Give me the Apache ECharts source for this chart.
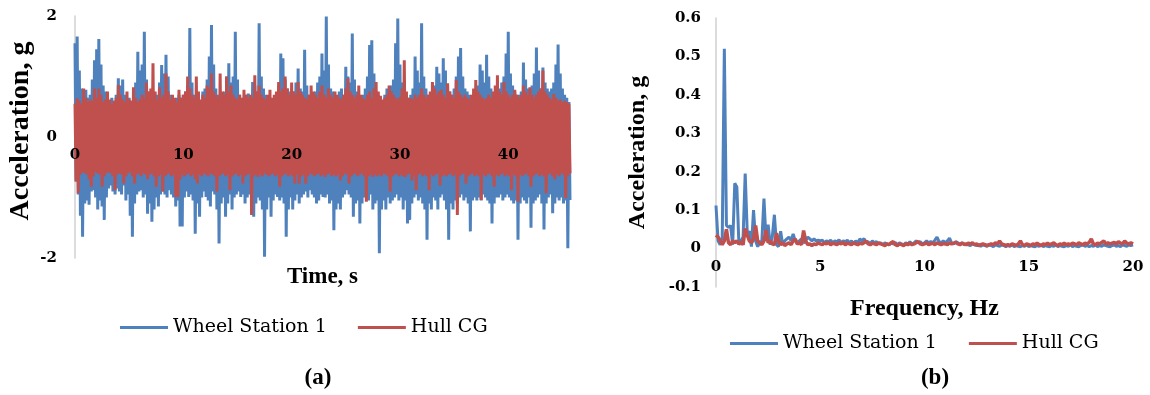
<!DOCTYPE html>
<html>
<head>
<meta charset="utf-8">
<script src="https://cdn.jsdelivr.net/npm/echarts@6/dist/echarts.min.js"></script>
<style>
html,body{margin:0;padding:0;background:#fff;}
#chart{width:1150px;height:395px;}
</style>
</head>
<body>
<div id="chart"></div>
<script>
// ---- Panel (a): time history, samples every 0.1 s ----
const seriesNames = ['Wheel Station 1', 'Hull CG'];
const timeStep = 0.1;
const wheelTime = [
 1.55,-0.72, 1.66,-0.95, 1.10,-1.30, 0.80,-1.65, 0.72,-1.10,
 0.78,-1.05, 0.65,-1.12, 0.70,-0.90, 0.95,-0.88, 1.27,-1.00,
 1.45,-1.20, 1.62,-1.05, 1.20,-1.15, 0.85,-1.37, 0.75,-1.00,
 0.62,-0.85, 0.55,-0.80, 0.65,-0.90, 0.60,-0.95, 0.70,-0.85,
 0.97,-0.90, 0.85,-0.95, 0.95,-0.80, 0.70,-1.05, 0.60,-0.95,
 0.65,-1.30, 0.60,-1.65, 0.70,-1.10, 0.90,-0.95, 1.41,-0.90,
 1.10,-0.88, 1.20,-1.00, 1.74,-0.95, 0.95,-1.27, 0.75,-1.10,
 0.65,-1.40, 0.60,-1.20, 0.55,-1.00, 0.70,-1.15, 0.90,-0.95,
 1.19,-0.90, 1.05,-0.95, 1.36,-1.00, 1.00,-0.88, 0.70,-0.95,
 0.60,-1.00, 0.55,-1.15, 0.65,-1.05, 0.70,-1.48, 0.65,-1.48,
 0.70,-1.00, 0.75,-0.90, 0.85,-0.99, 1.80,-0.95, 0.90,-1.05,
 0.70,-1.60, 0.62,-1.10, 0.70,-1.32, 0.60,-1.00, 0.75,-0.90,
 0.80,-0.99, 0.95,-1.05, 1.33,-1.15, 1.85,-0.90, 1.20,-0.95,
 0.80,-1.20, 0.70,-1.76, 0.65,-1.10, 0.70,-1.00, 0.75,-1.32,
 1.00,-1.10, 1.22,-0.95, 0.90,-1.20, 1.00,-1.00, 1.74,-0.95,
 0.95,-0.90, 0.70,-0.99, 0.60,-0.95, 0.65,-1.10, 0.70,-1.00,
 0.72,-0.95, 0.65,-1.00, 0.91,-1.32, 0.85,-1.10, 0.75,-1.00,
 1.88,-1.05, 1.00,-1.20, 0.80,-1.98, 0.70,-1.20, 0.65,-1.00,
 0.60,-1.32, 0.55,-1.05, 0.65,-0.95, 0.70,-0.99, 0.85,-1.05,
 1.38,-1.00, 1.30,-1.10, 0.95,-1.65, 0.80,-1.20, 0.75,-1.00,
 0.70,-1.20, 0.75,-1.05, 0.90,-0.95, 1.13,-1.10, 0.80,-1.00,
 0.75,-0.95, 1.44,-0.90, 0.85,-1.00, 0.70,-0.88, 0.65,-0.95,
 0.70,-1.00, 0.75,-1.10, 0.90,-1.05, 1.00,-0.95, 1.38,-0.99,
 1.10,-1.00, 1.99,-0.95, 1.20,-1.10, 0.80,-1.05, 0.75,-1.54,
 0.70,-1.20, 0.65,-1.10, 0.75,-1.20, 0.80,-1.00, 0.70,-0.95,
 1.16,-0.88, 1.00,-0.95, 0.90,-1.00, 1.71,-1.32, 0.95,-1.10,
 0.75,-1.05, 0.70,-1.43, 0.65,-1.10, 0.70,-1.00, 0.80,-0.95,
 1.00,-1.05, 1.52,-0.95, 1.60,-1.20, 1.05,-1.10, 0.75,-1.05,
 0.70,-1.92, 0.65,-1.20, 0.60,-1.05, 0.70,-1.20, 0.80,-1.00,
 0.75,-1.10, 0.85,-1.05, 0.95,-1.00, 1.55,-0.95, 1.96,-1.05,
 1.20,-1.00, 0.90,-1.20, 0.75,-1.05, 0.70,-1.43, 0.65,-1.37,
 0.70,-1.10, 0.80,-1.00, 1.33,-0.95, 1.10,-1.05, 0.90,-1.00,
 1.88,-1.10, 1.00,-1.20, 0.80,-1.70, 0.70,-1.10, 0.65,-1.20,
 0.75,-1.00, 0.85,-1.05, 1.16,-1.20, 1.05,-1.00, 0.90,-0.95,
 1.30,-1.05, 1.10,-1.20, 0.85,-1.70, 0.75,-1.10, 0.70,-1.20,
 0.80,-1.05, 1.00,-1.10, 1.33,-1.00, 1.47,-0.95, 1.00,-1.05,
 0.80,-1.00, 0.75,-1.10, 0.70,-1.56, 0.65,-1.05, 0.70,-1.00,
 0.75,-1.05, 0.85,-1.00, 1.20,-1.05, 1.10,-0.95, 0.90,-1.00,
 1.36,-1.05, 1.00,-1.10, 0.80,-1.43, 0.70,-1.10, 0.65,-1.00,
 0.70,-1.00, 0.80,-0.95, 0.90,-1.05, 1.00,-1.00, 1.38,-0.95,
 1.74,-1.00, 1.05,-1.05, 0.85,-1.10, 0.75,-1.05, 0.70,-1.70,
 0.70,-1.10, 0.75,-1.00, 1.23,-1.05, 0.95,-1.10, 0.80,-1.00,
 0.75,-1.50, 0.85,-1.10, 1.05,-1.05, 1.48,-1.00, 1.10,-0.95,
 0.80,-1.10, 1.15,-1.53, 0.90,-1.10, 0.80,-1.00, 0.75,-0.95,
 0.80,-1.26, 0.90,-1.10, 1.20,-1.00, 1.53,-1.05, 1.05,-1.00,
 0.80,-1.10, 0.70,-1.05, 0.65,-1.84, 0.58,-1.04
];
const hullTime = [
 0.55,-0.74, 0.64,-0.93, 0.60,-0.62, 0.55,-0.58, 0.80,-0.60,
 0.65,-0.62, 0.58,-0.70, 0.62,-0.82, 0.60,-0.65, 0.80,-0.58,
 0.65,-0.60, 0.80,-0.62, 0.70,-0.82, 0.58,-0.65, 0.62,-0.60,
 0.75,-0.58, 0.62,-0.60, 0.55,-0.65, 0.60,-0.88, 0.65,-0.62,
 0.86,-0.60, 0.70,-0.62, 0.62,-0.77, 0.58,-0.65, 0.75,-0.60,
 0.62,-0.58, 0.60,-0.65, 0.82,-0.77, 0.65,-0.62, 0.58,-0.60,
 0.62,-0.65, 0.70,-0.60, 0.65,-0.62, 0.90,-0.70, 0.75,-0.62,
 0.80,-0.60, 1.22,-0.65, 0.75,-0.82, 0.62,-0.65, 0.82,-0.62,
 0.65,-0.90, 0.70,-0.65, 1.05,-0.62, 0.75,-0.60, 0.62,-0.65,
 0.70,-0.62, 0.65,-0.99, 0.58,-0.99, 0.78,-0.70, 0.65,-0.62,
 0.70,-0.65, 0.75,-0.62, 1.00,-0.60, 0.80,-0.65, 0.70,-0.62,
 0.65,-0.70, 1.00,-0.77, 0.75,-0.62, 0.62,-0.65, 0.70,-0.60,
 0.65,-0.62, 0.85,-0.65, 0.80,-0.60, 1.05,-0.62, 0.75,-0.65,
 0.70,-0.90, 0.65,-0.65, 1.05,-0.62, 0.75,-0.60, 0.70,-0.65,
 1.00,-0.62, 0.75,-0.88, 0.85,-0.65, 0.70,-0.62, 0.65,-0.60,
 0.62,-0.65, 0.70,-0.62, 0.65,-0.77, 0.78,-0.65, 0.70,-0.62,
 0.65,-0.60, 0.70,-1.29, 0.65,-0.65, 1.02,-0.62, 0.75,-0.66,
 0.85,-0.62, 0.70,-0.65, 0.65,-0.60, 0.62,-0.62, 0.70,-0.65,
 0.78,-0.62, 0.65,-0.60, 0.70,-0.65, 0.75,-0.62, 0.91,-0.82,
 0.75,-0.65, 0.80,-0.62, 1.00,-0.60, 0.80,-0.65, 0.70,-0.62,
 0.90,-0.65, 0.75,-0.77, 0.70,-0.62, 0.91,-0.77, 0.75,-0.65,
 0.70,-0.62, 0.65,-0.77, 0.62,-0.65, 0.70,-0.60, 0.85,-0.62,
 0.75,-0.65, 0.70,-0.62, 0.65,-0.60, 0.75,-0.65, 0.85,-0.62,
 0.70,-0.66, 0.65,-0.62, 0.80,-0.60, 0.70,-0.65, 0.65,-0.62,
 0.75,-0.65, 0.70,-0.62, 0.65,-0.72, 0.62,-0.65, 0.70,-0.60,
 0.80,-0.62, 0.97,-0.77, 0.75,-0.65, 0.70,-0.62, 0.65,-0.60,
 0.70,-0.65, 0.85,-0.62, 0.70,-0.60, 0.64,-0.65, 0.62,-1.07,
 0.70,-0.65, 0.75,-0.62, 0.65,-0.66, 0.80,-0.62, 0.91,-0.65,
 0.75,-0.62, 0.68,-0.65, 0.62,-0.60, 0.65,-0.62, 0.70,-0.65,
 0.85,-0.90, 0.75,-0.65, 0.70,-0.62, 0.65,-0.60, 0.62,-0.65,
 0.66,-0.62, 0.80,-0.65, 1.27,-0.66, 0.75,-0.62, 0.65,-0.60,
 0.64,-0.72, 0.62,-0.65, 0.70,-0.88, 0.65,-0.62, 0.70,-0.60,
 0.80,-0.65, 0.70,-0.62, 0.65,-0.65, 0.70,-0.88, 0.75,-0.62,
 0.91,-0.65, 0.80,-0.62, 0.70,-0.60, 0.75,-0.80, 0.78,-0.65,
 0.70,-0.62, 0.65,-0.65, 0.89,-0.62, 0.75,-0.60, 0.70,-0.65,
 0.65,-0.62, 0.94,-1.29, 0.75,-0.65, 0.70,-0.62, 0.65,-0.60,
 0.70,-0.77, 0.65,-0.65, 0.62,-0.62, 0.70,-0.60, 0.80,-0.65,
 0.94,-0.62, 0.75,-0.65, 0.70,-1.04, 0.65,-0.62, 0.62,-0.65,
 0.64,-0.62, 0.70,-0.60, 0.65,-0.65, 0.75,-0.82, 0.85,-0.62,
 1.02,-0.65, 0.75,-0.62, 0.70,-0.60, 0.91,-0.65, 0.75,-0.62,
 0.70,-0.65, 0.65,-0.88, 0.70,-0.62, 0.78,-0.65, 0.70,-1.07,
 0.65,-0.62, 0.70,-0.65, 0.85,-0.62, 0.75,-0.60, 0.70,-0.65,
 0.82,-0.82, 0.70,-0.65, 0.65,-0.62, 0.70,-0.60, 0.75,-0.65,
 0.80,-0.62, 1.10,-0.65, 0.75,-0.93, 0.70,-0.62, 0.65,-0.60,
 0.62,-0.65, 0.71,-0.70, 0.65,-0.62, 0.60,-0.65, 0.62,-0.60,
 0.58,-0.62, 0.60,-1.01, 0.58,-0.65, 0.55,-0.60
];
const timeTicks = { min: 0, max: 45.7, interval: 10 };
const accTicksA = { min: -2, max: 2, interval: 2 };

// ---- Panel (b): spectrum, samples every 0.1 Hz ----
const freqStep = 0.1;
const wheelFreq = [
 0.112,0.020,0.010,0.030,0.520,0.060,0.055,0.060,0.010,0.170,
 0.160,0.010,0.020,0.030,0.195,0.040,0.045,0.005,0.100,0.020,
 0.005,0.015,0.020,0.130,0.020,0.062,0.010,0.030,0.088,0.010,
 0.005,0.045,0.010,0.020,0.025,0.030,0.020,0.038,0.020,0.015,
 0.020,0.025,0.015,0.020,0.030,0.025,0.020,0.025,0.020,0.022,
 0.020,0.022,0.015,0.020,0.018,0.022,0.015,0.020,0.017,0.023,
 0.015,0.020,0.018,0.022,0.015,0.020,0.012,0.020,0.015,0.025,
 0.020,0.026,0.015,0.018,0.012,0.020,0.015,0.018,0.012,0.015,
 0.010,0.015,0.012,0.010,0.015,0.012,0.016,0.010,0.015,0.012,
 0.010,0.015,0.012,0.018,0.012,0.015,0.020,0.015,0.018,0.012,
 0.015,0.020,0.015,0.018,0.015,0.022,0.030,0.018,0.015,0.020,
 0.015,0.020,0.027,0.015,0.012,0.018,0.015,0.012,0.015,0.010,
 0.012,0.010,0.008,0.012,0.010,0.008,0.010,0.006,0.010,0.008,
 0.006,0.010,0.008,0.005,0.010,0.008,0.006,0.010,0.008,0.005,
 0.008,0.006,0.010,0.005,0.008,0.006,0.005,0.008,0.006,0.010,
 0.005,0.008,0.006,0.005,0.008,0.006,0.010,0.005,0.008,0.006,
 0.005,0.008,0.006,0.010,0.005,0.008,0.006,0.005,0.008,0.006,
 0.010,0.005,0.008,0.006,0.005,0.008,0.010,0.006,0.008,0.005,
 0.008,0.006,0.010,0.005,0.008,0.006,0.010,0.008,0.006,0.005,
 0.008,0.010,0.006,0.008,0.005,0.010,0.008,0.006,0.010,0.008,
 0.010
];
const hullFreq = [
 0.035,0.030,0.020,0.010,0.020,0.050,0.015,0.010,0.020,0.015,
 0.020,0.012,0.018,0.010,0.052,0.035,0.020,0.015,0.025,0.060,
 0.020,0.015,0.010,0.020,0.048,0.015,0.020,0.012,0.010,0.040,
 0.020,0.010,0.015,0.008,0.012,0.015,0.010,0.020,0.025,0.012,
 0.015,0.010,0.047,0.020,0.010,0.012,0.008,0.012,0.010,0.015,
 0.012,0.010,0.015,0.012,0.016,0.010,0.014,0.012,0.010,0.015,
 0.012,0.016,0.010,0.014,0.012,0.010,0.015,0.012,0.010,0.014,
 0.012,0.015,0.020,0.012,0.010,0.014,0.012,0.010,0.015,0.012,
 0.010,0.008,0.012,0.010,0.015,0.018,0.010,0.008,0.012,0.010,
 0.008,0.012,0.010,0.014,0.010,0.012,0.015,0.018,0.012,0.010,
 0.012,0.015,0.010,0.012,0.014,0.010,0.015,0.012,0.010,0.013,
 0.012,0.010,0.015,0.012,0.014,0.016,0.012,0.010,0.014,0.012,
 0.010,0.014,0.012,0.015,0.010,0.012,0.008,0.010,0.012,0.010,
 0.008,0.010,0.012,0.010,0.015,0.012,0.020,0.012,0.010,0.008,
 0.010,0.008,0.012,0.010,0.008,0.012,0.020,0.010,0.008,0.012,
 0.010,0.008,0.012,0.010,0.014,0.010,0.008,0.012,0.010,0.014,
 0.010,0.012,0.015,0.010,0.008,0.012,0.010,0.014,0.010,0.012,
 0.010,0.014,0.012,0.010,0.015,0.012,0.010,0.014,0.012,0.016,
 0.025,0.012,0.010,0.014,0.012,0.016,0.020,0.012,0.015,0.012,
 0.014,0.016,0.012,0.018,0.014,0.012,0.020,0.014,0.012,0.015,
 0.012
];
const freqTicks = { min: 0, max: 20, interval: 5 };
const accTicksB = { min: -0.1, max: 0.6, interval: 0.1 };

const axisTitles = { timeX: 'Time, s', freqX: 'Frequency, Hz', accY: 'Acceleration, g' };
const captions = ['(a)', '(b)'];

const colors = ['#4f81bd', '#c0504d'];
const serif = '"Liberation Serif", "Times New Roman", serif';
const wideSerif = '"DejaVu Serif", serif';

function pairs(values, step) {
  return values.map((v, i) => [+(i * step).toFixed(1), v]);
}

const chart = echarts.init(document.getElementById('chart'), null, { renderer: 'canvas' });

const tickLabel = { color: '#000', fontFamily: wideSerif, fontWeight: 'bold', fontSize: 15 };
const hiddenLine = { show: true, onZero: false, lineStyle: { color: 'rgba(0,0,0,0)', width: 0 } };

// grid geometry (panel a: y from -2..2 ; panel b: y from -0.1..0.6)
const gridA = { left: 75, top: 16, width: 495, height: 242 };
const gridB = { left: 716, top: 18, width: 417, height: 269 };
// the x axes sit on the zero line of their y axes
const zeroOffsetA = -gridA.height * (0 - accTicksA.min) / (accTicksA.max - accTicksA.min);
const zeroOffsetB = -gridB.height * (0 - accTicksB.min) / (accTicksB.max - accTicksB.min);

chart.setOption({
  animation: false,
  backgroundColor: '#fff',
  grid: [
    Object.assign({ outerBoundsMode: 'none', containLabel: false }, gridA),
    Object.assign({ outerBoundsMode: 'none', containLabel: false }, gridB)
  ],
  legend: [
    { data: seriesNames, left: 115, top: 313, icon: 'rect', itemWidth: 48, itemHeight: 3, itemGap: 31,
      textStyle: { fontFamily: wideSerif, fontSize: 19, color: '#000' } },
    { data: seriesNames.map(n => n + ' '), left: 725, top: 329, icon: 'rect', itemWidth: 48, itemHeight: 3, itemGap: 32,
      formatter: n => n.trim(),
      textStyle: { fontFamily: wideSerif, fontSize: 19, color: '#000' } }
  ],
  xAxis: [
    { gridIndex: 0, type: 'value', position: 'bottom', offset: zeroOffsetA,
      min: timeTicks.min, max: timeTicks.max, interval: timeTicks.interval, z: 10,
      axisLine: hiddenLine, axisTick: { show: false }, splitLine: { show: false },
      axisLabel: Object.assign({ margin: 11, showMaxLabel: false }, tickLabel),
      name: axisTitles.timeX, nameLocation: 'middle', nameGap: 129,
      nameTextStyle: { fontFamily: serif, fontWeight: 'bold', fontSize: 23, color: '#000' } },
    { gridIndex: 1, type: 'value', position: 'bottom', offset: zeroOffsetB,
      min: freqTicks.min, max: freqTicks.max, interval: freqTicks.interval,
      axisLine: hiddenLine, axisTick: { show: false }, splitLine: { show: false },
      axisLabel: Object.assign({ margin: 11 }, tickLabel),
      name: axisTitles.freqX, nameLocation: 'middle', nameGap: 48,
      nameTextStyle: { fontFamily: serif, fontWeight: 'bold', fontSize: 24, color: '#000' } }
  ],
  yAxis: [
    { gridIndex: 0, type: 'value', min: accTicksA.min, max: accTicksA.max, interval: accTicksA.interval,
      axisLine: { show: true, onZero: false, lineStyle: { color: '#d0d0d0', width: 1.5 } }, axisTick: { show: false }, splitLine: { show: false },
      axisLabel: Object.assign({ margin: 18 }, tickLabel),
      name: axisTitles.accY, nameLocation: 'middle', nameGap: 40, nameRotate: 90,
      nameTextStyle: { fontFamily: serif, fontWeight: 'bold', fontSize: 28, color: '#000', padding: [0, 0, 0, 12] } },
    { gridIndex: 1, type: 'value', min: accTicksB.min, max: accTicksB.max, interval: accTicksB.interval,
      axisLine: { show: true, onZero: false, lineStyle: { color: '#d0d0d0', width: 1.5 } }, axisTick: { show: false }, splitLine: { show: false },
      axisLabel: Object.assign({ margin: 15 }, tickLabel),
      name: axisTitles.accY, nameLocation: 'middle', nameGap: 66, nameRotate: 90,
      nameTextStyle: { fontFamily: serif, fontWeight: 'bold', fontSize: 24, color: '#000' } }
  ],
  series: [
    { name: seriesNames[0], type: 'line', xAxisIndex: 0, yAxisIndex: 0, data: pairs(wheelTime, timeStep),
      showSymbol: false, symbol: 'none', color: colors[0], lineStyle: { width: 3, color: colors[0] }, z: 2 },
    { name: seriesNames[1], type: 'line', xAxisIndex: 0, yAxisIndex: 0, data: pairs(hullTime, timeStep),
      showSymbol: false, symbol: 'none', color: colors[1], lineStyle: { width: 3, color: colors[1] }, z: 3 },
    { name: seriesNames[0] + ' ', type: 'line', xAxisIndex: 1, yAxisIndex: 1, data: pairs(wheelFreq, freqStep),
      showSymbol: false, symbol: 'none', color: colors[0], lineStyle: { width: 3, color: colors[0] }, z: 2 },
    { name: seriesNames[1] + ' ', type: 'line', xAxisIndex: 1, yAxisIndex: 1, data: pairs(hullFreq, freqStep),
      showSymbol: false, symbol: 'none', color: colors[1], lineStyle: { width: 3.5, color: colors[1] }, z: 3 }
  ],
  graphic: [
    { type: 'text', x: 318, y: 378, style: { text: captions[0], textAlign: 'center', textVerticalAlign: 'middle',
      font: 'bold 23px ' + serif, fill: '#000' } },
    { type: 'text', x: 935, y: 378, style: { text: captions[1], textAlign: 'center', textVerticalAlign: 'middle',
      font: 'bold 23px ' + serif, fill: '#000' } }
  ]
});
</script>
</body>
</html>
